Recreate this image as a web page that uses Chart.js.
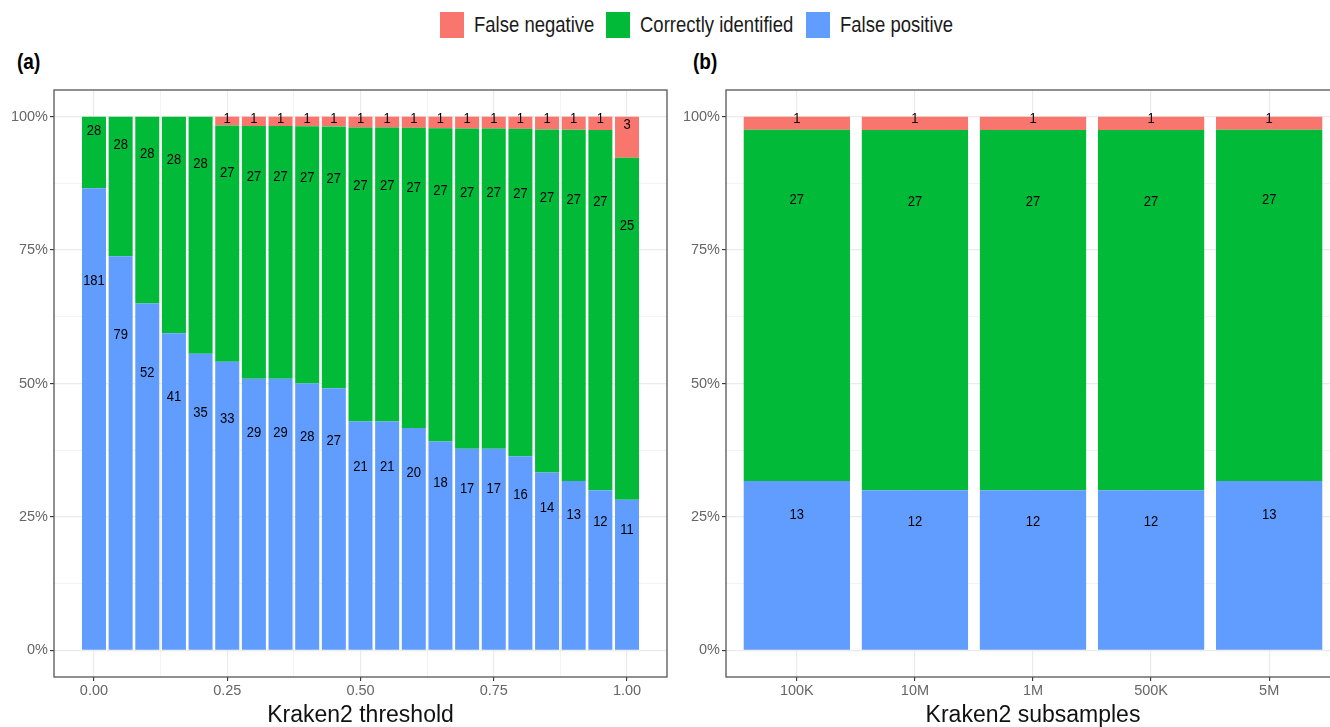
<!DOCTYPE html>
<html><head><meta charset="utf-8">
<script src="https://cdn.jsdelivr.net/npm/chart.js@4.4.1/dist/chart.umd.min.js"></script>
<style>
html,body{margin:0;padding:0;background:#fff;overflow:hidden;width:1330px;height:727px;}
body{position:relative;font-family:"Liberation Sans",Arial,Helvetica,sans-serif;}
#c1{position:absolute;left:0;top:0;}
#c2{position:absolute;left:680px;top:0;}
.key{position:absolute;top:12px;width:24px;height:26px;}
.lt{position:absolute;top:12px;height:26px;line-height:26px;font-size:18.5px;color:#1a1a1a;white-space:nowrap;transform:scaleY(1.18);transform-origin:left center;}
.tag{position:absolute;top:50px;font-size:19px;font-weight:bold;color:#000;line-height:24px;transform:scaleY(1.15);transform-origin:left center;}
</style></head>
<body>
<div class="key" style="left:440px;background:#F8766D"></div><div class="lt" style="left:474px">False negative</div>
<div class="key" style="left:606px;background:#00BA38"></div><div class="lt" style="left:640px">Correctly identified</div>
<div class="key" style="left:806px;background:#619CFF"></div><div class="lt" style="left:840px">False positive</div>
<div class="tag" style="left:17px">(a)</div>
<div class="tag" style="left:693px">(b)</div>
<canvas id="c1" width="680" height="727"></canvas>
<canvas id="c2" width="700" height="727"></canvas>
<script>
// ---- data ----
const thresholds = [0.00,0.05,0.10,0.15,0.20,0.25,0.30,0.35,0.40,0.45,0.50,0.55,0.60,0.65,0.70,0.75,0.80,0.85,0.90,0.95,1.00];
const falsePosA  = [181,79,52,41,35,33,29,29,28,27,21,21,20,18,17,17,16,14,13,12,11];
const correctA   = [28,28,28,28,28,27,27,27,27,27,27,27,27,27,27,27,27,27,27,27,25];
const falseNegA  = [0,0,0,0,0,1,1,1,1,1,1,1,1,1,1,1,1,1,1,1,3];

const subsamples = ['100K','10M','1M','500K','5M'];
const falsePosB  = [13,12,12,12,13];
const correctB   = [27,27,27,27,27];
const falseNegB  = [1,1,1,1,1];

const xTickLabelsA = ['0.00','0.25','0.50','0.75','1.00'];
const xMajorA = [0,0.25,0.5,0.75,1];
const xMinorA = [0.125,0.375,0.625,0.875];
const yMajor = [0,25,50,75,100];
const yMinor = [12.5,37.5,62.5,87.5];
const seriesNames = ['False positive','Correctly identified','False negative'];
const seriesColors = ['#619CFF','#00BA38','#F8766D'];

Chart.defaults.font.family = '"Liberation Sans", Arial, Helvetica, sans-serif';

function buildDatasets(xs, series){
  const totals = xs.map((_,j)=>series.reduce((s,a)=>s+a[j],0));
  return series.map((arr,i)=>({
    label: seriesNames[i],
    backgroundColor: seriesColors[i],
    borderWidth: 0,
    counts: arr,
    data: arr.map((c,j)=>({x: xs[j], y: c/totals[j]*100}))
  }));
}

const labelPlugin = {
  id:'stackLabels',
  afterDatasetsDraw(chart){
    const ctx = chart.ctx, xs = chart.scales.x, ys = chart.scales.y;
    const ds = chart.data.datasets;
    ctx.save();
    ctx.font = '13px "Liberation Sans", Arial, sans-serif';
    ctx.fillStyle = '#000';
    ctx.textAlign = 'center';
    ctx.textBaseline = 'middle';
    ds.forEach((d,i)=>{
      d.data.forEach((p,j)=>{
        if (d.counts[j] <= 0) return;
        let base = 0;
        for (let k=0;k<i;k++) base += ds[k].data[j].y;
        const yv = base + 0.8*p.y;
        ctx.save();
        ctx.translate(xs.getPixelForValue(p.x), ys.getPixelForValue(yv));
        ctx.scale(1, 1.15);
        ctx.fillText(String(d.counts[j]), 0, 0);
        ctx.restore();
      });
    });
    ctx.restore();
  }
};
const borderPlugin = {
  id:'panelBorder',
  afterDatasetsDraw(chart){
    const {ctx, chartArea:a} = chart;
    ctx.save();
    ctx.strokeStyle = '#555';
    ctx.lineWidth = 1.3;
    ctx.strokeRect(a.left, a.top, a.right-a.left, a.bottom-a.top);
    ctx.restore();
  }
};

function isIn(arr, v){ return arr.some(m=>Math.abs(m-v)<1e-9); }

function yScale(width){
  return {
    type:'linear', stacked:true, min:-5, max:105,
    afterBuildTicks: s => { s.ticks = yMajor.concat(yMinor).sort((a,b)=>a-b).map(v=>({value:v})); },
    afterFit: s => { s.width = width; },
    border:{display:false},
    grid:{
      color:'#EBEBEB',
      lineWidth: c => isIn(yMajor, c.tick.value) ? 1.2 : 0.6,
      tickColor: c => isIn(yMajor, c.tick.value) ? '#333' : 'rgba(0,0,0,0)',
      tickWidth: 1.1, tickLength: 4, drawTicks:true
    },
    ticks:{
      autoSkip:false, padding:2, color:'#666', font:{size:14.5},
      callback: v => isIn(yMajor, v) ? v + '%' : ''
    }
  };
}

function xScale(min, max, major, minor, labelFn, title){
  return {
    type:'linear', stacked:true, min:min, max:max, offset:false,
    afterBuildTicks: s => { s.ticks = major.concat(minor).sort((a,b)=>a-b).map(v=>({value:v})); },
    afterFit: s => { s.height = 50; },
    border:{display:false},
    grid:{
      offset:false,
      color:'#EBEBEB',
      lineWidth: c => isIn(major, c.tick.value) ? 1.2 : 0.6,
      tickColor: c => isIn(major, c.tick.value) ? '#333' : 'rgba(0,0,0,0)',
      tickWidth: 1.1, tickLength: 4, drawTicks:true
    },
    ticks:{
      autoSkip:false, maxRotation:0, minRotation:0, padding:1, color:'#666', font:{size:14.5},
      callback: v => isIn(major, v) ? labelFn(v) : ''
    },
    title:{display:true, text:title, color:'#111', font:{size:23, lineHeight:1}, padding:{top:0,bottom:0}}
  };
}

function commonOpts(scales, padRight){
  return {
    responsive:false, animation:false, devicePixelRatio:1,
    layout:{padding:{top:90, right:padRight, bottom:0, left:0}},
    plugins:{legend:{display:false}, tooltip:{enabled:false}},
    datasets:{bar:{barPercentage:0.9, categoryPercentage:1.0}},
    scales: scales
  };
}

new Chart(document.getElementById('c1'), {
  type:'bar',
  data:{datasets: buildDatasets(thresholds, [falsePosA, correctA, falseNegA])},
  options: commonOpts({
    x: xScale(-0.075, 1.075, xMajorA, xMinorA, v => xTickLabelsA[xMajorA.findIndex(m=>Math.abs(m-v)<1e-9)], 'Kraken2 threshold'),
    y: yScale(54)
  }, 13),
  plugins:[labelPlugin, borderPlugin]
});

const posB = subsamples.map((_,i)=>i+1);
new Chart(document.getElementById('c2'), {
  type:'bar',
  data:{datasets: buildDatasets(posB, [falsePosB, correctB, falseNegB])},
  options: commonOpts({
    x: xScale(0.4, 5.6, posB, [], v => subsamples[Math.round(v)-1], 'Kraken2 subsamples'),
    y: yScale(46)
  }, 40),
  plugins:[labelPlugin, borderPlugin]
});
</script>
</body></html>
